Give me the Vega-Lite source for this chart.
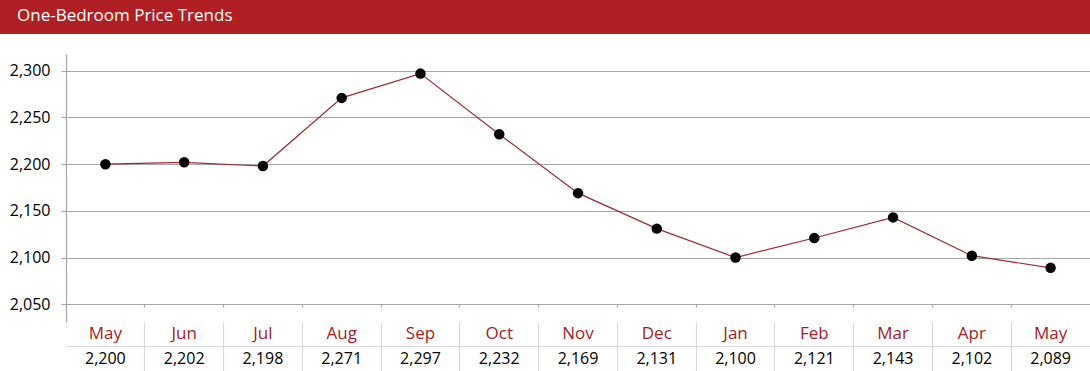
{
  "$schema": "https://vega.github.io/schema/vega-lite/v6.json",
  "padding": 0,
  "autosize": {"type": "pad"},
  "config": {
    "view": {"stroke": null},
    "font": "Open Sans",
    "axis": {"labelFont": "Open Sans"}
  },
  "datasets": {
    "rows": [
      {"key": "May1", "month": "May", "value": 2200},
      {"key": "Jun", "month": "Jun", "value": 2202},
      {"key": "Jul", "month": "Jul", "value": 2198},
      {"key": "Aug", "month": "Aug", "value": 2271},
      {"key": "Sep", "month": "Sep", "value": 2297},
      {"key": "Oct", "month": "Oct", "value": 2232},
      {"key": "Nov", "month": "Nov", "value": 2169},
      {"key": "Dec", "month": "Dec", "value": 2131},
      {"key": "Jan", "month": "Jan", "value": 2100},
      {"key": "Feb", "month": "Feb", "value": 2121},
      {"key": "Mar", "month": "Mar", "value": 2143},
      {"key": "Apr", "month": "Apr", "value": 2102},
      {"key": "May2", "month": "May", "value": 2089}
    ]
  },
  "spacing": 20,
  "vconcat": [
    {
      "width": 1024,
      "height": 34,
      "data": {"values": [{"t": 1}]},
      "view": {"fill": "#b01f24", "stroke": null},
      "title": {
        "text": "One-Bedroom Price Trends",
        "anchor": "start",
        "frame": "group",
        "orient": "top",
        "offset": -38,
        "dx": -49,
        "baseline": "alphabetic",
        "color": "#ffffff",
        "fontSize": 17,
        "fontWeight": "normal",
        "font": "Open Sans"
      },
      "mark": {"type": "rect", "color": "#b01f24"},
      "encoding": {
        "y": {
          "datum": 1,
          "type": "quantitative",
          "scale": {"domain": [0, 1], "nice": false},
          "axis": {
            "labels": false,
            "ticks": false,
            "grid": false,
            "title": null,
            "domain": true,
            "translate": 0,
            "domainColor": "#b01f24",
            "domainWidth": 134,
            "domainCap": "butt",
            "minExtent": 66,
            "maxExtent": 66
          }
        },
        "y2": {"datum": 0}
      }
    },
    {
      "spacing": 0,
      "vconcat": [
        {
          "width": 1024,
          "height": 268,
          "data": {"name": "rows"},
          "encoding": {
            "x": {
              "field": "key",
              "type": "ordinal",
              "sort": null,
              "scale": {"type": "band", "paddingInner": 0, "paddingOuter": 0},
              "axis": {
                "offset": -18,
                "labels": false,
                "title": null,
                "bandPosition": 0,
                "tickSize": 3,
                "tickColor": "#a6a6a6",
                "tickWidth": 1.2,
                "domainColor": "#a6a6a6",
                "domainWidth": 1.2,
                "grid": false
              }
            },
            "y": {
              "field": "value",
              "type": "quantitative",
              "scale": {"domain": [2031, 2318], "nice": false, "zero": false},
              "axis": {
                "values": [2050, 2100, 2150, 2200, 2250, 2300],
                "format": ",d",
                "title": null,
                "grid": true,
                "gridColor": "#a6a6a6",
                "gridWidth": 1.2,
                "domainColor": "#a6a6a6",
                "domainWidth": 1.2,
                "tickColor": "#a6a6a6",
                "tickWidth": 1.2,
                "tickSize": 5,
                "labelFontSize": 16,
                "labelColor": "#000000",
                "labelPadding": 11,
                "minExtent": 66,
                "maxExtent": 66
              }
            }
          },
          "layer": [
            {"mark": {"type": "line", "color": "#9e2a30", "strokeWidth": 1.2}},
            {"mark": {"type": "point", "filled": true, "color": "#000000", "size": 110, "opacity": 1}}
          ]
        },
        {
          "width": 1024,
          "height": 49,
          "data": {"name": "rows"},
          "encoding": {
            "x": {
              "field": "key",
              "type": "ordinal",
              "sort": null,
              "scale": {"type": "band", "paddingInner": 0, "paddingOuter": 0},
              "axis": {
                "labels": false,
                "ticks": false,
                "domain": false,
                "title": null,
                "grid": true,
                "bandPosition": 0,
                "gridColor": "#d9d9d9",
                "gridWidth": 1.2,
                "gridOpacity": {"condition": {"test": "datum.value === 'May1'", "value": 0}, "value": 1}
              }
            }
          },
          "layer": [
            {
              "mark": {"type": "text", "color": "#a51c24", "fontSize": 17},
              "encoding": {
                "y": {
                  "datum": "Month",
                  "type": "nominal",
                  "scale": {"type": "band", "domain": ["Month", "Value"], "paddingInner": 0, "paddingOuter": 0},
                  "axis": {
                    "labels": false,
                    "ticks": false,
                    "domain": false,
                    "title": null,
                    "grid": true,
                    "bandPosition": 0,
                    "gridColor": "#d9d9d9",
                    "gridWidth": 1.2,
                    "gridOpacity": {"condition": {"test": "datum.value === 'Month'", "value": 0}, "value": 1},
                    "minExtent": 66,
                    "maxExtent": 66
                  }
                },
                "text": {"field": "month"}
              }
            },
            {
              "mark": {"type": "text", "color": "#000000", "fontSize": 16},
              "encoding": {
                "y": {"datum": "Value", "type": "nominal"},
                "text": {"field": "value", "type": "quantitative", "format": ",d"}
              }
            }
          ]
        }
      ]
    }
  ]
}
